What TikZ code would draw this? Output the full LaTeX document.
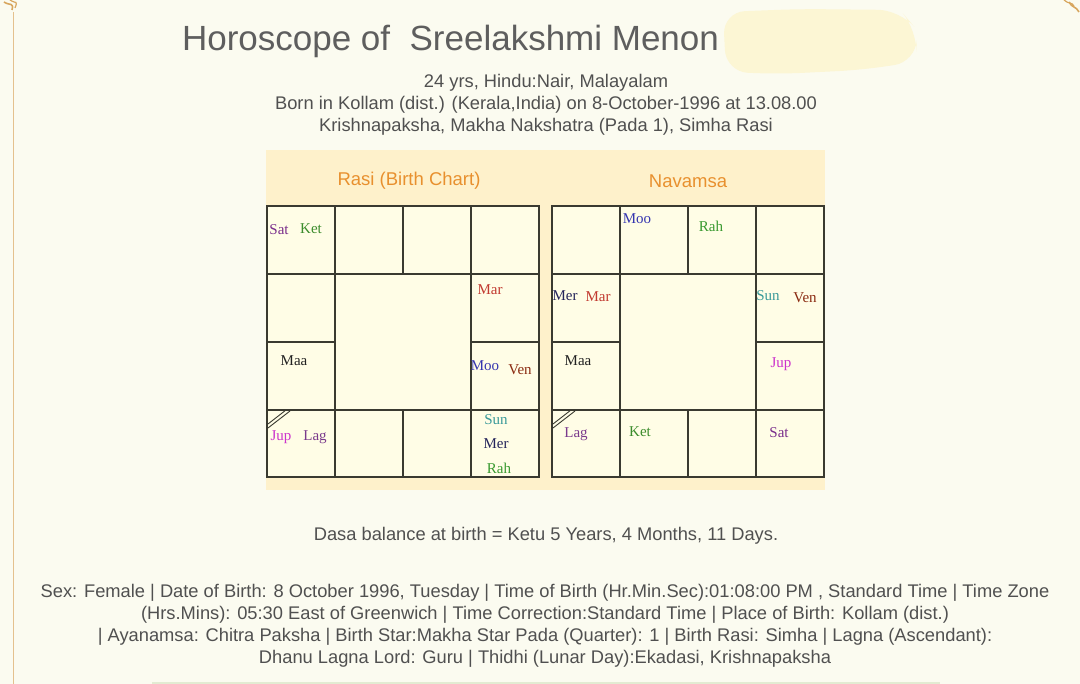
\documentclass[tikz,border=0pt]{standalone}
\usepackage{fontspec}
\setmainfont{Liberation Sans}
\newfontfamily\planetfont{Liberation Serif}
\definecolor{pagebg}{HTML}{FBFBF0}
\definecolor{blob}{HTML}{FCF6D4}
\definecolor{panel}{HTML}{FEF1CB}
\definecolor{cellbg}{HTML}{FFFDE6}
\definecolor{gridc}{HTML}{3A3A30}
\definecolor{headc}{HTML}{E8902E}
\definecolor{textc}{HTML}{505050}
\definecolor{titlec}{HTML}{5E5E5E}
\definecolor{ornc}{HTML}{D8A65E}
\definecolor{greenbar}{HTML}{E3EBD2}
\definecolor{psat}{HTML}{7A2E8C}
\definecolor{pket}{HTML}{3C8C2C}
\definecolor{pmar}{HTML}{C23A30}
\definecolor{pmaa}{HTML}{222222}
\definecolor{pmoo}{HTML}{3535B0}
\definecolor{pven}{HTML}{8A2A10}
\definecolor{pjup}{HTML}{CC33CC}
\definecolor{plag}{HTML}{7A3A8C}
\definecolor{psun}{HTML}{3A9A9A}
\definecolor{pmer}{HTML}{23235A}
\definecolor{prah}{HTML}{3A9A30}
\tikzset{
  body/.style={text=textc, font=\fontsize{18.3}{21}\selectfont, inner sep=0pt, align=center},
  head/.style={text=headc, font=\fontsize{18.5}{21}\selectfont, inner sep=0pt},
  planet/.style={font=\planetfont\fontsize{15}{16}\selectfont, inner sep=0pt},
  gridline/.style={draw=gridc, line width=1.3pt},
}
\begin{document}
\begin{tikzpicture}[x=1pt,y=-1pt]
\useasboundingbox (0,0) rectangle (1080,684);
\fill[pagebg] (0,0) rectangle (1080,684);
% left border line and ornaments
\draw[ornc!70, line width=0.8pt] (13,12) -- (13,684);
\draw[ornc, line width=1.6pt] (4,2) .. controls (10,6) and (14,2) .. (12,10);
\draw[ornc, line width=1.2pt] (10,0) .. controls (16,4) and (18,0) .. (15,8);
\draw[ornc, line width=1.6pt] (1069,2) .. controls (1072,8) and (1076,6) .. (1079,12);
\draw[ornc, line width=1.2pt] (1064,0) .. controls (1068,4) and (1072,2) .. (1074,6);
% redaction blob
\fill[blob, rounded corners=22pt] (723,12) -- (800,9) -- (900,10) -- (917,30) -- (916,62) -- (860,70) -- (780,74) -- (726,72) -- cycle;
% title
\node[text=titlec, font=\fontsize{35}{40}\selectfont, inner sep=0pt] (title) at (450.5,41) {Horoscope of \ Sreelakshmi Menon};
\node[body] (l1) at (546,83) {24 yrs, Hindu:Nair, Malayalam};
\node[body] (l2) at (546,105) {Born in Kollam (dist.) (Kerala,India) on 8-October-1996 at 13.08.00};
\node[body] (l3) at (546,127) {Krishnapaksha, Makha Nakshatra (Pada 1), Simha Rasi};
% panel
\fill[panel] (266,150) rectangle (825,490);
\node[head] (rasih) at (409,181) {Rasi (Birth Chart)};
\node[head] (navh) at (688,181) {Navamsa};
% Rasi grid
\fill[cellbg] (267,206) rectangle (539,477);
\draw[gridline] (267,206) rectangle (539,477);
\draw[gridline] (335,206) -- (335,477);
\draw[gridline] (471,206) -- (471,477);
\draw[gridline] (403,206) -- (403,274);
\draw[gridline] (403,410) -- (403,477);
\draw[gridline] (267,274) -- (539,274);
\draw[gridline] (267,410) -- (539,410);
\draw[gridline] (267,342) -- (335,342);
\draw[gridline] (471,342) -- (539,342);
\draw[gridc, line width=0.9pt] (268,424) -- (286,410);
\draw[gridc, line width=0.9pt] (268,428) -- (290,411);
% Navamsa grid
\fill[cellbg] (552,206) rectangle (824,477);
\draw[gridline] (552,206) rectangle (824,477);
\draw[gridline] (620,206) -- (620,477);
\draw[gridline] (756,206) -- (756,477);
\draw[gridline] (688,206) -- (688,274);
\draw[gridline] (688,410) -- (688,477);
\draw[gridline] (552,274) -- (824,274);
\draw[gridline] (552,410) -- (824,410);
\draw[gridline] (552,342) -- (620,342);
\draw[gridline] (756,342) -- (824,342);
\draw[gridc, line width=0.9pt] (553,424) -- (571,410);
\draw[gridc, line width=0.9pt] (553,428) -- (575,411);
% Rasi planets
\node[planet, text=psat] (rsat) at (279,230) {Sat};
\node[planet, text=pket] (rket) at (311,229) {Ket};
\node[planet, text=pmar] (rmar) at (490,290) {Mar};
\node[planet, text=pmaa] (rmaa) at (294,361) {Maa};
\node[planet, text=pmoo] (rmoo) at (485,366) {Moo};
\node[planet, text=pven] (rven) at (520,370) {Ven};
\node[planet, text=pjup] (rjup) at (281,437) {Jup};
\node[planet, text=plag] (rlag) at (315,437) {Lag};
\node[planet, text=psun] (rsun) at (496,420) {Sun};
\node[planet, text=pmer] (rmer) at (496,444) {Mer};
\node[planet, text=prah] (rrah) at (499,468) {Rah};
% Navamsa planets
\node[planet, text=pmoo] (nmoo) at (637,219) {Moo};
\node[planet, text=prah] (nrah) at (711,226) {Rah};
\node[planet, text=pmer] (nmer) at (565,296) {Mer};
\node[planet, text=pmar] (nmar) at (598,297) {Mar};
\node[planet, text=psun] (nsun) at (768,296) {Sun};
\node[planet, text=pven] (nven) at (805,298) {Ven};
\node[planet, text=pmaa] (nmaa) at (578,361) {Maa};
\node[planet, text=pjup] (njup) at (781,364) {Jup};
\node[planet, text=plag] (nlag) at (576,434) {Lag};
\node[planet, text=pket] (nket) at (640,432) {Ket};
\node[planet, text=psat] (nsat) at (779,433) {Sat};
% dasa
\node[body] (dasa) at (546,536) {Dasa balance at birth = Ketu 5 Years, 4 Months, 11 Days.};
% details
\node[body] (d1) at (545,593) {Sex: Female | Date of Birth: 8 October 1996, Tuesday | Time of Birth (Hr.Min.Sec):01:08:00 PM , Standard Time | Time Zone};
\node[body] (d2) at (545,615) {(Hrs.Mins): 05:30 East of Greenwich | Time Correction:Standard Time | Place of Birth: Kollam (dist.)};
\node[body] (d3) at (545,637) {| Ayanamsa: Chitra Paksha | Birth Star:Makha Star Pada (Quarter): 1 | Birth Rasi: Simha | Lagna (Ascendant):};
\node[body] (d4) at (545,659) {Dhanu Lagna Lord: Guru | Thidhi (Lunar Day):Ekadasi, Krishnapaksha};
% bottom bar
\fill[greenbar] (152,682) rectangle (940,684);
\end{tikzpicture}
\end{document}
